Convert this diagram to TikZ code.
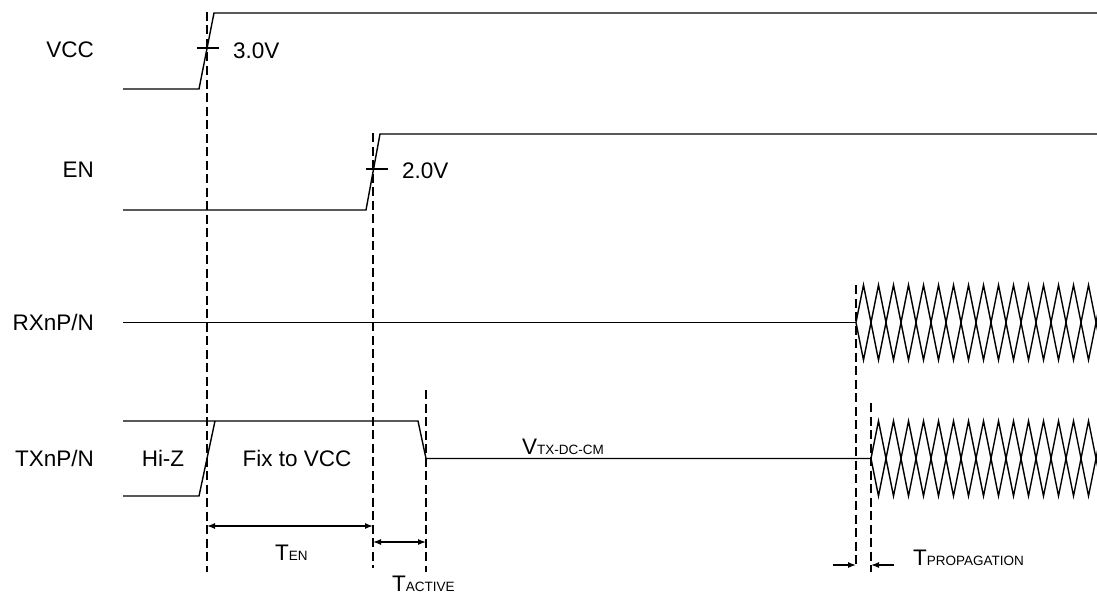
\documentclass[tikz,border=0pt]{standalone}
\usepackage{fontspec}
\setmainfont{Liberation Sans}
\usetikzlibrary{arrows.meta}
\newcommand\subsz[1]{{\fontsize{13.5}{15}\selectfont #1}}
\tikzset{
  sig/.style={line width=1.4pt, line join=miter},
  guide/.style={line width=1.3pt, dash pattern=on 9pt off 4.5pt},
  dim/.style={line width=1.3pt, {Latex[length=8pt,width=6pt]}-{Latex[length=8pt,width=6pt]}},
  dimr/.style={line width=1.3pt, -{Latex[length=8pt,width=6pt]}},
  lbl/.style={inner sep=0pt, font=\fontsize{22.5}{26}\selectfont},
}
\begin{document}
\begin{tikzpicture}[x=1pt,y=-1pt]
\useasboundingbox (0,0) rectangle (1097,594);
% signal names
\node[lbl, anchor=east] (nvcc) at (94,50) {VCC};
\node[lbl, anchor=east] (nen) at (94,170) {EN};
\node[lbl, anchor=east] (nrx) at (94,322) {RXnP/N};
\node[lbl, anchor=east] (ntx) at (94,458) {TXnP/N};
% VCC
\draw[sig] (123,89) -- (199,89) -- (214,13) -- (1100,13);
\draw[sig] (197,48) -- (219,48);
\node[lbl, anchor=west] (v3) at (233,51) {3.0V};
% EN
\draw[sig] (123,210) -- (366,210) -- (380,134) -- (1100,134);
\draw[sig] (366,169) -- (388,169);
\node[lbl, anchor=west] (v2) at (402,171) {2.0V};
% RX
\draw[sig] (123,322.5) -- (856,322.5);
\draw[sig] (856,322.5) foreach \k in {0,...,16} { -- ({863.5+15*\k},{322.5-37.5*cos(180*\k)}) };
\draw[sig] (856,322.5) foreach \k in {0,...,16} { -- ({863.5+15*\k},{322.5+37.5*cos(180*\k)}) };
% TX
\draw[sig] (123,421) -- (418,421) -- (426,458.5) -- (871,458.5);
\draw[sig] (123,496) -- (199,496) -- (215,421);
\draw[sig] (871,458.5) foreach \k in {0,...,16} { -- ({878.5+15*\k},{458.5-37.5*cos(180*\k)}) };
\draw[sig] (871,458.5) foreach \k in {0,...,16} { -- ({878.5+15*\k},{458.5+37.5*cos(180*\k)}) };
\node[lbl] (hiz) at (163,458) {Hi-Z};
\node[lbl] (fix) at (297,458) {Fix to VCC};
\node[lbl, anchor=base west] (vtx) at (522,454) {V\subsz{TX-DC-CM}};
% guides
\coordinate (g1t) at (207,12);  \coordinate (g1b) at (207,572);
\coordinate (g2t) at (373,133); \coordinate (g2b) at (373,568);
\coordinate (g3t) at (426,390); \coordinate (g3b) at (426,572);
\coordinate (g4t) at (856,285); \coordinate (g4b) at (856,566);
\coordinate (g5t) at (871,403); \coordinate (g5b) at (871,572);
\foreach \g in {1,...,5} { \draw[guide] (g\g t) -- (g\g b); }
% dimensions
\coordinate (ena) at (207,526); \coordinate (enb) at (373,526);
\draw[dim] (ena) -- (enb);
\node[lbl, anchor=base west] (ten) at (275,560) {T\subsz{EN}};
\coordinate (aca) at (373,542); \coordinate (acb) at (426,542);
\draw[dim] (aca) -- (acb);
\node[lbl, anchor=base west] (tac) at (392,591) {T\subsz{ACTIVE}};
\coordinate (pa0) at (833,565); \coordinate (pa1) at (856,565);
\coordinate (pb0) at (894,565); \coordinate (pb1) at (871,565);
\draw[dimr] (pa0) -- (pa1);
\draw[dimr] (pb0) -- (pb1);
\node[lbl, anchor=base west] (tpr) at (913,565) {T\subsz{PROPAGATION}};
\end{tikzpicture}
\end{document}
